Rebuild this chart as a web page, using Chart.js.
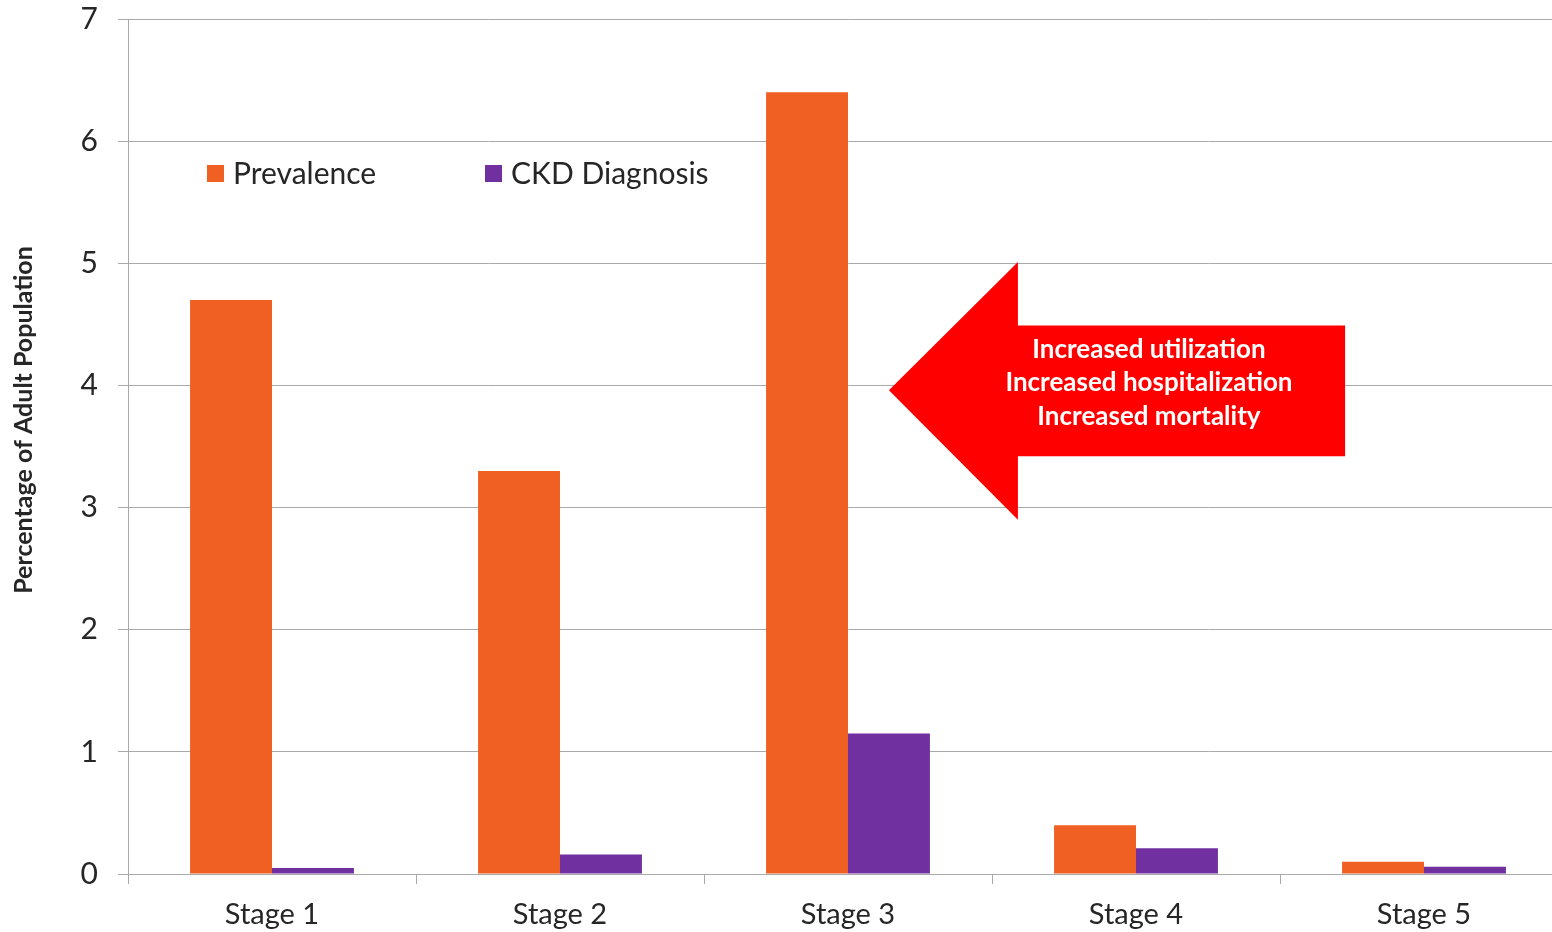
<!DOCTYPE html>
<html>
<head>
<meta charset="utf-8">
<title>CKD prevalence vs diagnosis by stage</title>
<script src="https://cdn.jsdelivr.net/npm/chart.js@4/dist/chart.umd.min.js"></script>
<style>
  html, body { margin: 0; padding: 0; background: #ffffff; overflow: hidden; }
  /* the plot runs slightly past the right edge of the page */
  #wrap { width: 1552px; height: 932px; overflow: hidden; }
  #chart { display: block; }
</style>
</head>
<body>
<div id="wrap"><canvas id="chart" width="1568" height="932"></canvas></div>
<script>
// Categories and series values
const categories = ['Stage 1', 'Stage 2', 'Stage 3', 'Stage 4', 'Stage 5'];
const prevalence = [4.7, 3.3, 6.4, 0.4, 0.1];
const ckdDiagnosis = [0.05, 0.16, 1.15, 0.21, 0.06];
const seriesNames = ['Prevalence', 'CKD Diagnosis'];
const yTickValues = [0, 1, 2, 3, 4, 5, 6, 7];
const yAxisTitle = 'Percentage of Adult Population';
const calloutLines = ['Increased utilization', 'Increased hospitalization', 'Increased mortality'];

const ORANGE = '#F06022';
const PURPLE = '#7030A0';
const GRID = '#A9A9A9';
const TEXT = '#262626';
const FONT = 'Lato, "Open Sans", sans-serif';

// Legend drawn inside the plot area, upper left
const innerLegend = {
  id: 'innerLegend',
  afterDraw(chart) {
    const { ctx } = chart;
    const xs = [207, 485];
    const y = 174;
    ctx.save();
    ctx.font = '30px ' + FONT;
    ctx.textBaseline = 'middle';
    ctx.textAlign = 'left';
    chart.data.datasets.forEach((ds, i) => {
      ctx.fillStyle = ds.backgroundColor;
      ctx.fillRect(xs[i], y - 9, 17, 17);
      ctx.fillStyle = TEXT;
      ctx.fillText(ds.label, xs[i] + 26, y);
    });
    ctx.restore();
  }
};

// Rotated y axis title
const yTitle = {
  id: 'yTitle',
  afterDraw(chart) {
    const { ctx } = chart;
    ctx.save();
    ctx.translate(24, 420);
    ctx.rotate(-Math.PI / 2);
    ctx.font = 'bold 25px ' + FONT;
    ctx.fillStyle = TEXT;
    ctx.textAlign = 'center';
    ctx.textBaseline = 'middle';
    ctx.fillText(yAxisTitle, 0, 0);
    ctx.restore();
  }
};

// Left-pointing callout arrow next to Stage 3
const calloutArrow = {
  id: 'calloutArrow',
  afterDatasetsDraw(chart) {
    const { ctx, scales } = chart;
    const X = v => scales.x.getPixelForValue(v);
    const Y = v => scales.y.getPixelForValue(v);
    const tipX = X(2.142), headX = X(2.590), endX = X(3.726);
    const tipY = Y(3.96), headTop = Y(5.01), headBot = Y(2.90);
    const bodyTop = Y(4.49), bodyBot = Y(3.42);
    ctx.save();
    ctx.fillStyle = '#FF0000';
    ctx.beginPath();
    ctx.moveTo(tipX, tipY);
    ctx.lineTo(headX, headTop);
    ctx.lineTo(headX, bodyTop);
    ctx.lineTo(endX, bodyTop);
    ctx.lineTo(endX, bodyBot);
    ctx.lineTo(headX, bodyBot);
    ctx.lineTo(headX, headBot);
    ctx.closePath();
    ctx.fill();
    ctx.fillStyle = '#FFFFFF';
    ctx.font = 'bold 26px ' + FONT;
    ctx.textAlign = 'center';
    ctx.textBaseline = 'middle';
    const cx = X(3.045);
    const cy = (bodyTop + bodyBot) / 2 - 8;
    calloutLines.forEach((t, i) => {
      ctx.fillText(t, cx, cy + (i - 1) * 33.5);
    });
    ctx.restore();
  }
};

new Chart(document.getElementById('chart'), {
  type: 'bar',
  data: {
    labels: categories,
    datasets: [
      { label: seriesNames[0], data: prevalence, backgroundColor: ORANGE },
      { label: seriesNames[1], data: ckdDiagnosis, backgroundColor: PURPLE }
    ]
  },
  options: {
    responsive: false,
    animation: false,
    devicePixelRatio: 1,
    layout: { padding: { top: 19, right: 0, left: 0, bottom: 0 } },
    datasets: { bar: { categoryPercentage: 0.569, barPercentage: 1.0 } },
    plugins: {
      legend: { display: false },
      tooltip: { enabled: false }
    },
    scales: {
      x: {
        grid: { offset: true, drawOnChartArea: false, drawTicks: true, tickLength: 10, color: GRID },
        border: { color: GRID, width: 1 },
        ticks: { color: TEXT, font: { family: FONT, size: 29 }, padding: 13, maxRotation: 0 },
        afterFit(scale) {
          scale.height = 58;
          scale.paddingLeft = 0;
          scale.paddingRight = 0;
        }
      },
      y: {
        min: 0,
        max: 7,
        afterBuildTicks(scale) { scale.ticks = yTickValues.map(v => ({ value: v })); },
        grid: { color: GRID, tickLength: 10, drawTicks: true },
        border: { color: GRID, width: 1 },
        ticks: { color: TEXT, font: { family: FONT, size: 30 }, padding: 20 },
        afterFit(scale) {
          scale.width = 128;
          scale.paddingTop = 0;
          scale.paddingBottom = 0;
        }
      }
    }
  },
  plugins: [innerLegend, yTitle, calloutArrow]
});
</script>
</body>
</html>
